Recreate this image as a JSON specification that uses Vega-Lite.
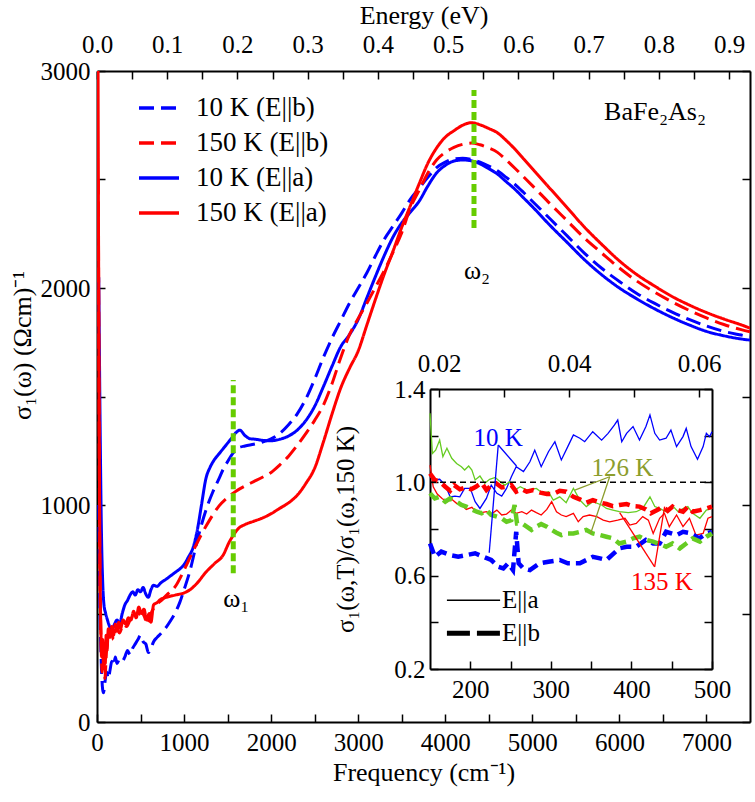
{
"$schema": "https://vega.github.io/schema/vega-lite/v6.json",
"width": 653, "height": 651,
"autosize": {"type": "none"},
"padding": {"left": 97, "top": 71, "right": 5, "bottom": 80},
"background": "white",
"config": {
 "view": {"stroke": null},
 "axis": {"grid": false, "domainColor": "#000", "domainWidth": 2, "tickColor": "#000", "tickWidth": 1.5, "tickSize": -8,
  "labelFont": "Liberation Serif", "labelFontSize": 25, "labelColor": "#000", "labelFlush": false, "labelOverlap": false,
  "titleFont": "Liberation Serif", "titleFontSize": 26, "titleFontWeight": "normal", "titleColor": "#000"},
 "legend": {"labelFont": "Liberation Serif"},
 "text": {"font": "Liberation Serif"}
},
"datasets": {
 "main": [
  {"f":20,"s":2050,"series":"10 K (E||a)"},{"f":35,"s":1400,"series":"10 K (E||a)"},{"f":50,"s":900,"series":"10 K (E||a)"},{"f":65,"s":650,"series":"10 K (E||a)"},{"f":80,"s":540,"series":"10 K (E||a)"},{"f":100,"s":500,"series":"10 K (E||a)"},{"f":120,"s":470,"series":"10 K (E||a)"},{"f":145,"s":440,"series":"10 K (E||a)"},{"f":170,"s":425,"series":"10 K (E||a)"},{"f":200,"s":450,"series":"10 K (E||a)"},{"f":230,"s":470,"series":"10 K (E||a)"},{"f":260,"s":455,"series":"10 K (E||a)"},{"f":290,"s":500,"series":"10 K (E||a)"},{"f":320,"s":540,"series":"10 K (E||a)"},{"f":350,"s":560,"series":"10 K (E||a)"},{"f":380,"s":585,"series":"10 K (E||a)"},{"f":410,"s":600,"series":"10 K (E||a)"},{"f":440,"s":585,"series":"10 K (E||a)"},{"f":470,"s":610,"series":"10 K (E||a)"},{"f":500,"s":600,"series":"10 K (E||a)"},{"f":530,"s":620,"series":"10 K (E||a)"},{"f":560,"s":590,"series":"10 K (E||a)"},{"f":590,"s":575,"series":"10 K (E||a)"},{"f":620,"s":610,"series":"10 K (E||a)"},{"f":650,"s":630,"series":"10 K (E||a)"},{"f":690,"s":625,"series":"10 K (E||a)"},{"f":730,"s":640,"series":"10 K (E||a)"},{"f":800,"s":660,"series":"10 K (E||a)"},{"f":850,"s":675,"series":"10 K (E||a)"},{"f":900,"s":690,"series":"10 K (E||a)"},{"f":950,"s":705,"series":"10 K (E||a)"},{"f":1000,"s":725,"series":"10 K (E||a)"},{"f":1050,"s":760,"series":"10 K (E||a)"},{"f":1100,"s":800,"series":"10 K (E||a)"},{"f":1150,"s":880,"series":"10 K (E||a)"},{"f":1200,"s":1000,"series":"10 K (E||a)"},{"f":1250,"s":1120,"series":"10 K (E||a)"},{"f":1300,"s":1175,"series":"10 K (E||a)"},{"f":1350,"s":1210,"series":"10 K (E||a)"},{"f":1400,"s":1235,"series":"10 K (E||a)"},{"f":1450,"s":1260,"series":"10 K (E||a)"},{"f":1500,"s":1285,"series":"10 K (E||a)"},{"f":1550,"s":1310,"series":"10 K (E||a)"},{"f":1600,"s":1335,"series":"10 K (E||a)"},{"f":1640,"s":1345,"series":"10 K (E||a)"},{"f":1700,"s":1320,"series":"10 K (E||a)"},{"f":1760,"s":1305,"series":"10 K (E||a)"},{"f":1820,"s":1303,"series":"10 K (E||a)"},{"f":1900,"s":1298,"series":"10 K (E||a)"},{"f":2000,"s":1296,"series":"10 K (E||a)"},{"f":2100,"s":1303,"series":"10 K (E||a)"},{"f":2200,"s":1318,"series":"10 K (E||a)"},{"f":2300,"s":1345,"series":"10 K (E||a)"},{"f":2400,"s":1390,"series":"10 K (E||a)"},{"f":2500,"s":1455,"series":"10 K (E||a)"},{"f":2600,"s":1545,"series":"10 K (E||a)"},{"f":2700,"s":1640,"series":"10 K (E||a)"},{"f":2800,"s":1730,"series":"10 K (E||a)"},{"f":2900,"s":1785,"series":"10 K (E||a)"},{"f":3000,"s":1855,"series":"10 K (E||a)"},{"f":3100,"s":1955,"series":"10 K (E||a)"},{"f":3200,"s":2055,"series":"10 K (E||a)"},{"f":3300,"s":2150,"series":"10 K (E||a)"},{"f":3400,"s":2235,"series":"10 K (E||a)"},{"f":3500,"s":2300,"series":"10 K (E||a)"},{"f":3600,"s":2350,"series":"10 K (E||a)"},{"f":3700,"s":2400,"series":"10 K (E||a)"},{"f":3800,"s":2470,"series":"10 K (E||a)"},{"f":3900,"s":2530,"series":"10 K (E||a)"},{"f":4000,"s":2565,"series":"10 K (E||a)"},{"f":4100,"s":2585,"series":"10 K (E||a)"},{"f":4200,"s":2590,"series":"10 K (E||a)"},{"f":4300,"s":2586,"series":"10 K (E||a)"},{"f":4400,"s":2572,"series":"10 K (E||a)"},{"f":4500,"s":2550,"series":"10 K (E||a)"},{"f":4600,"s":2525,"series":"10 K (E||a)"},{"f":4700,"s":2490,"series":"10 K (E||a)"},{"f":4800,"s":2455,"series":"10 K (E||a)"},{"f":4900,"s":2415,"series":"10 K (E||a)"},{"f":5000,"s":2375,"series":"10 K (E||a)"},{"f":5200,"s":2290,"series":"10 K (E||a)"},{"f":5400,"s":2210,"series":"10 K (E||a)"},{"f":5600,"s":2130,"series":"10 K (E||a)"},{"f":5800,"s":2060,"series":"10 K (E||a)"},{"f":6000,"s":2000,"series":"10 K (E||a)"},{"f":6200,"s":1950,"series":"10 K (E||a)"},{"f":6400,"s":1905,"series":"10 K (E||a)"},{"f":6600,"s":1865,"series":"10 K (E||a)"},{"f":6800,"s":1830,"series":"10 K (E||a)"},{"f":7000,"s":1800,"series":"10 K (E||a)"},{"f":7200,"s":1780,"series":"10 K (E||a)"},{"f":7400,"s":1765,"series":"10 K (E||a)"},{"f":7500,"s":1760,"series":"10 K (E||a)"},
  {"f":20,"s":1000,"series":"10 K (E||b)"},{"f":35,"s":500,"series":"10 K (E||b)"},{"f":50,"s":260,"series":"10 K (E||b)"},{"f":65,"s":150,"series":"10 K (E||b)"},{"f":75,"s":135,"series":"10 K (E||b)"},{"f":90,"s":180,"series":"10 K (E||b)"},{"f":110,"s":230,"series":"10 K (E||b)"},{"f":130,"s":200,"series":"10 K (E||b)"},{"f":150,"s":240,"series":"10 K (E||b)"},{"f":170,"s":280,"series":"10 K (E||b)"},{"f":190,"s":260,"series":"10 K (E||b)"},{"f":210,"s":300,"series":"10 K (E||b)"},{"f":230,"s":270,"series":"10 K (E||b)"},{"f":260,"s":290,"series":"10 K (E||b)"},{"f":290,"s":280,"series":"10 K (E||b)"},{"f":320,"s":300,"series":"10 K (E||b)"},{"f":350,"s":330,"series":"10 K (E||b)"},{"f":380,"s":310,"series":"10 K (E||b)"},{"f":410,"s":340,"series":"10 K (E||b)"},{"f":440,"s":360,"series":"10 K (E||b)"},{"f":470,"s":380,"series":"10 K (E||b)"},{"f":500,"s":400,"series":"10 K (E||b)"},{"f":530,"s":370,"series":"10 K (E||b)"},{"f":560,"s":360,"series":"10 K (E||b)"},{"f":590,"s":320,"series":"10 K (E||b)"},{"f":620,"s":340,"series":"10 K (E||b)"},{"f":650,"s":370,"series":"10 K (E||b)"},{"f":690,"s":390,"series":"10 K (E||b)"},{"f":740,"s":410,"series":"10 K (E||b)"},{"f":800,"s":440,"series":"10 K (E||b)"},{"f":850,"s":470,"series":"10 K (E||b)"},{"f":900,"s":505,"series":"10 K (E||b)"},{"f":950,"s":550,"series":"10 K (E||b)"},{"f":1000,"s":610,"series":"10 K (E||b)"},{"f":1070,"s":700,"series":"10 K (E||b)"},{"f":1130,"s":800,"series":"10 K (E||b)"},{"f":1180,"s":880,"series":"10 K (E||b)"},{"f":1250,"s":975,"series":"10 K (E||b)"},{"f":1330,"s":1060,"series":"10 K (E||b)"},{"f":1400,"s":1120,"series":"10 K (E||b)"},{"f":1450,"s":1165,"series":"10 K (E||b)"},{"f":1500,"s":1200,"series":"10 K (E||b)"},{"f":1560,"s":1238,"series":"10 K (E||b)"},{"f":1620,"s":1262,"series":"10 K (E||b)"},{"f":1700,"s":1272,"series":"10 K (E||b)"},{"f":1800,"s":1280,"series":"10 K (E||b)"},{"f":1900,"s":1290,"series":"10 K (E||b)"},{"f":2000,"s":1305,"series":"10 K (E||b)"},{"f":2100,"s":1330,"series":"10 K (E||b)"},{"f":2200,"s":1370,"series":"10 K (E||b)"},{"f":2300,"s":1420,"series":"10 K (E||b)"},{"f":2400,"s":1490,"series":"10 K (E||b)"},{"f":2500,"s":1580,"series":"10 K (E||b)"},{"f":2600,"s":1680,"series":"10 K (E||b)"},{"f":2700,"s":1770,"series":"10 K (E||b)"},{"f":2800,"s":1850,"series":"10 K (E||b)"},{"f":2900,"s":1930,"series":"10 K (E||b)"},{"f":3000,"s":2000,"series":"10 K (E||b)"},{"f":3100,"s":2070,"series":"10 K (E||b)"},{"f":3200,"s":2150,"series":"10 K (E||b)"},{"f":3300,"s":2225,"series":"10 K (E||b)"},{"f":3400,"s":2285,"series":"10 K (E||b)"},{"f":3500,"s":2345,"series":"10 K (E||b)"},{"f":3600,"s":2410,"series":"10 K (E||b)"},{"f":3700,"s":2460,"series":"10 K (E||b)"},{"f":3800,"s":2510,"series":"10 K (E||b)"},{"f":3900,"s":2555,"series":"10 K (E||b)"},{"f":4000,"s":2580,"series":"10 K (E||b)"},{"f":4100,"s":2595,"series":"10 K (E||b)"},{"f":4200,"s":2598,"series":"10 K (E||b)"},{"f":4300,"s":2592,"series":"10 K (E||b)"},{"f":4400,"s":2580,"series":"10 K (E||b)"},{"f":4500,"s":2562,"series":"10 K (E||b)"},{"f":4600,"s":2540,"series":"10 K (E||b)"},{"f":4700,"s":2510,"series":"10 K (E||b)"},{"f":4800,"s":2478,"series":"10 K (E||b)"},{"f":4900,"s":2440,"series":"10 K (E||b)"},{"f":5000,"s":2400,"series":"10 K (E||b)"},{"f":5200,"s":2320,"series":"10 K (E||b)"},{"f":5400,"s":2240,"series":"10 K (E||b)"},{"f":5600,"s":2160,"series":"10 K (E||b)"},{"f":5800,"s":2090,"series":"10 K (E||b)"},{"f":6000,"s":2030,"series":"10 K (E||b)"},{"f":6200,"s":1975,"series":"10 K (E||b)"},{"f":6400,"s":1930,"series":"10 K (E||b)"},{"f":6600,"s":1890,"series":"10 K (E||b)"},{"f":6800,"s":1855,"series":"10 K (E||b)"},{"f":7000,"s":1825,"series":"10 K (E||b)"},{"f":7200,"s":1800,"series":"10 K (E||b)"},{"f":7400,"s":1783,"series":"10 K (E||b)"},{"f":7500,"s":1775,"series":"10 K (E||b)"},
  {"f":15,"s":2500,"series":"150 K (E||b)"},{"f":30,"s":900,"series":"150 K (E||b)"},{"f":45,"s":400,"series":"150 K (E||b)"},{"f":60,"s":230,"series":"150 K (E||b)"},{"f":75,"s":300,"series":"150 K (E||b)"},{"f":90,"s":200,"series":"150 K (E||b)"},{"f":110,"s":330,"series":"150 K (E||b)"},{"f":130,"s":380,"series":"150 K (E||b)"},{"f":160,"s":420,"series":"150 K (E||b)"},{"f":190,"s":380,"series":"150 K (E||b)"},{"f":220,"s":430,"series":"150 K (E||b)"},{"f":260,"s":410,"series":"150 K (E||b)"},{"f":300,"s":450,"series":"150 K (E||b)"},{"f":340,"s":440,"series":"150 K (E||b)"},{"f":380,"s":470,"series":"150 K (E||b)"},{"f":420,"s":490,"series":"150 K (E||b)"},{"f":460,"s":480,"series":"150 K (E||b)"},{"f":500,"s":510,"series":"150 K (E||b)"},{"f":540,"s":490,"series":"150 K (E||b)"},{"f":580,"s":450,"series":"150 K (E||b)"},{"f":620,"s":500,"series":"150 K (E||b)"},{"f":680,"s":540,"series":"150 K (E||b)"},{"f":740,"s":560,"series":"150 K (E||b)"},{"f":800,"s":585,"series":"150 K (E||b)"},{"f":900,"s":625,"series":"150 K (E||b)"},{"f":1000,"s":700,"series":"150 K (E||b)"},{"f":1100,"s":785,"series":"150 K (E||b)"},{"f":1200,"s":865,"series":"150 K (E||b)"},{"f":1300,"s":935,"series":"150 K (E||b)"},{"f":1400,"s":995,"series":"150 K (E||b)"},{"f":1500,"s":1035,"series":"150 K (E||b)"},{"f":1600,"s":1065,"series":"150 K (E||b)"},{"f":1700,"s":1088,"series":"150 K (E||b)"},{"f":1800,"s":1108,"series":"150 K (E||b)"},{"f":1900,"s":1128,"series":"150 K (E||b)"},{"f":2000,"s":1150,"series":"150 K (E||b)"},{"f":2100,"s":1185,"series":"150 K (E||b)"},{"f":2200,"s":1225,"series":"150 K (E||b)"},{"f":2300,"s":1275,"series":"150 K (E||b)"},{"f":2400,"s":1330,"series":"150 K (E||b)"},{"f":2500,"s":1390,"series":"150 K (E||b)"},{"f":2600,"s":1460,"series":"150 K (E||b)"},{"f":2700,"s":1560,"series":"150 K (E||b)"},{"f":2800,"s":1680,"series":"150 K (E||b)"},{"f":2900,"s":1785,"series":"150 K (E||b)"},{"f":3000,"s":1860,"series":"150 K (E||b)"},{"f":3100,"s":1930,"series":"150 K (E||b)"},{"f":3200,"s":2005,"series":"150 K (E||b)"},{"f":3300,"s":2080,"series":"150 K (E||b)"},{"f":3400,"s":2165,"series":"150 K (E||b)"},{"f":3500,"s":2255,"series":"150 K (E||b)"},{"f":3600,"s":2370,"series":"150 K (E||b)"},{"f":3700,"s":2450,"series":"150 K (E||b)"},{"f":3800,"s":2530,"series":"150 K (E||b)"},{"f":3900,"s":2590,"series":"150 K (E||b)"},{"f":4000,"s":2625,"series":"150 K (E||b)"},{"f":4100,"s":2648,"series":"150 K (E||b)"},{"f":4200,"s":2662,"series":"150 K (E||b)"},{"f":4300,"s":2668,"series":"150 K (E||b)"},{"f":4400,"s":2660,"series":"150 K (E||b)"},{"f":4500,"s":2645,"series":"150 K (E||b)"},{"f":4600,"s":2625,"series":"150 K (E||b)"},{"f":4700,"s":2590,"series":"150 K (E||b)"},{"f":4800,"s":2552,"series":"150 K (E||b)"},{"f":4900,"s":2512,"series":"150 K (E||b)"},{"f":5000,"s":2472,"series":"150 K (E||b)"},{"f":5200,"s":2390,"series":"150 K (E||b)"},{"f":5400,"s":2310,"series":"150 K (E||b)"},{"f":5600,"s":2230,"series":"150 K (E||b)"},{"f":5800,"s":2160,"series":"150 K (E||b)"},{"f":6000,"s":2092,"series":"150 K (E||b)"},{"f":6200,"s":2032,"series":"150 K (E||b)"},{"f":6400,"s":1982,"series":"150 K (E||b)"},{"f":6600,"s":1937,"series":"150 K (E||b)"},{"f":6800,"s":1897,"series":"150 K (E||b)"},{"f":7000,"s":1862,"series":"150 K (E||b)"},{"f":7200,"s":1832,"series":"150 K (E||b)"},{"f":7400,"s":1808,"series":"150 K (E||b)"},{"f":7500,"s":1798,"series":"150 K (E||b)"},
  {"f":12,"s":3000,"series":"150 K (E||a)"},{"f":25,"s":1400,"series":"150 K (E||a)"},{"f":35,"s":700,"series":"150 K (E||a)"},{"f":45,"s":420,"series":"150 K (E||a)"},{"f":55,"s":300,"series":"150 K (E||a)"},{"f":65,"s":380,"series":"150 K (E||a)"},{"f":75,"s":250,"series":"150 K (E||a)"},{"f":85,"s":340,"series":"150 K (E||a)"},{"f":95,"s":270,"series":"150 K (E||a)"},{"f":105,"s":400,"series":"150 K (E||a)"},{"f":115,"s":330,"series":"150 K (E||a)"},{"f":130,"s":430,"series":"150 K (E||a)"},{"f":150,"s":390,"series":"150 K (E||a)"},{"f":170,"s":440,"series":"150 K (E||a)"},{"f":190,"s":400,"series":"150 K (E||a)"},{"f":210,"s":450,"series":"150 K (E||a)"},{"f":230,"s":420,"series":"150 K (E||a)"},{"f":250,"s":460,"series":"150 K (E||a)"},{"f":270,"s":430,"series":"150 K (E||a)"},{"f":300,"s":470,"series":"150 K (E||a)"},{"f":330,"s":450,"series":"150 K (E||a)"},{"f":360,"s":480,"series":"150 K (E||a)"},{"f":390,"s":470,"series":"150 K (E||a)"},{"f":420,"s":510,"series":"150 K (E||a)"},{"f":450,"s":480,"series":"150 K (E||a)"},{"f":480,"s":530,"series":"150 K (E||a)"},{"f":510,"s":500,"series":"150 K (E||a)"},{"f":540,"s":520,"series":"150 K (E||a)"},{"f":570,"s":470,"series":"150 K (E||a)"},{"f":600,"s":500,"series":"150 K (E||a)"},{"f":620,"s":460,"series":"150 K (E||a)"},{"f":650,"s":540,"series":"150 K (E||a)"},{"f":690,"s":550,"series":"150 K (E||a)"},{"f":730,"s":565,"series":"150 K (E||a)"},{"f":800,"s":575,"series":"150 K (E||a)"},{"f":900,"s":585,"series":"150 K (E||a)"},{"f":1000,"s":595,"series":"150 K (E||a)"},{"f":1070,"s":610,"series":"150 K (E||a)"},{"f":1150,"s":640,"series":"150 K (E||a)"},{"f":1250,"s":690,"series":"150 K (E||a)"},{"f":1350,"s":730,"series":"150 K (E||a)"},{"f":1450,"s":770,"series":"150 K (E||a)"},{"f":1520,"s":830,"series":"150 K (E||a)"},{"f":1565,"s":860,"series":"150 K (E||a)"},{"f":1620,"s":890,"series":"150 K (E||a)"},{"f":1700,"s":910,"series":"150 K (E||a)"},{"f":1800,"s":925,"series":"150 K (E||a)"},{"f":1900,"s":940,"series":"150 K (E||a)"},{"f":2000,"s":960,"series":"150 K (E||a)"},{"f":2100,"s":985,"series":"150 K (E||a)"},{"f":2200,"s":1010,"series":"150 K (E||a)"},{"f":2300,"s":1045,"series":"150 K (E||a)"},{"f":2400,"s":1100,"series":"150 K (E||a)"},{"f":2500,"s":1170,"series":"150 K (E||a)"},{"f":2600,"s":1290,"series":"150 K (E||a)"},{"f":2700,"s":1420,"series":"150 K (E||a)"},{"f":2800,"s":1540,"series":"150 K (E||a)"},{"f":2900,"s":1630,"series":"150 K (E||a)"},{"f":3000,"s":1710,"series":"150 K (E||a)"},{"f":3100,"s":1830,"series":"150 K (E||a)"},{"f":3200,"s":1950,"series":"150 K (E||a)"},{"f":3300,"s":2065,"series":"150 K (E||a)"},{"f":3400,"s":2170,"series":"150 K (E||a)"},{"f":3500,"s":2280,"series":"150 K (E||a)"},{"f":3600,"s":2380,"series":"150 K (E||a)"},{"f":3700,"s":2480,"series":"150 K (E||a)"},{"f":3800,"s":2575,"series":"150 K (E||a)"},{"f":3900,"s":2645,"series":"150 K (E||a)"},{"f":4000,"s":2695,"series":"150 K (E||a)"},{"f":4100,"s":2725,"series":"150 K (E||a)"},{"f":4200,"s":2750,"series":"150 K (E||a)"},{"f":4300,"s":2762,"series":"150 K (E||a)"},{"f":4400,"s":2752,"series":"150 K (E||a)"},{"f":4500,"s":2735,"series":"150 K (E||a)"},{"f":4600,"s":2715,"series":"150 K (E||a)"},{"f":4700,"s":2680,"series":"150 K (E||a)"},{"f":4800,"s":2640,"series":"150 K (E||a)"},{"f":4900,"s":2595,"series":"150 K (E||a)"},{"f":5000,"s":2550,"series":"150 K (E||a)"},{"f":5200,"s":2460,"series":"150 K (E||a)"},{"f":5400,"s":2370,"series":"150 K (E||a)"},{"f":5600,"s":2280,"series":"150 K (E||a)"},{"f":5800,"s":2200,"series":"150 K (E||a)"},{"f":6000,"s":2125,"series":"150 K (E||a)"},{"f":6200,"s":2062,"series":"150 K (E||a)"},{"f":6400,"s":2010,"series":"150 K (E||a)"},{"f":6600,"s":1962,"series":"150 K (E||a)"},{"f":6800,"s":1922,"series":"150 K (E||a)"},{"f":7000,"s":1887,"series":"150 K (E||a)"},{"f":7200,"s":1857,"series":"150 K (E||a)"},{"f":7400,"s":1830,"series":"150 K (E||a)"},{"f":7500,"s":1815,"series":"150 K (E||a)"}
 ],
 "markers": [{"f":1565,"s":686,"s2":1576},{"f":4330,"s":2276,"s2":2912}],
 "mainlabels": [{"f":1600,"s":565,"label":"ω₁"},{"f":4365,"s":2080,"label":"ω₂"},{"f":6409,"s":2811,"label":"BaFe₂As₂"}],
 "inset": [
  {"x":150,"r":1.024,"T":"10 K","pol":"a"},{"x":156,"r":1.010,"T":"10 K","pol":"a"},{"x":162,"r":1.013,"T":"10 K","pol":"a"},{"x":169,"r":0.988,"T":"10 K","pol":"a"},{"x":175,"r":0.938,"T":"10 K","pol":"a"},{"x":181,"r":0.941,"T":"10 K","pol":"a"},{"x":187,"r":0.938,"T":"10 K","pol":"a"},{"x":193,"r":0.974,"T":"10 K","pol":"a"},{"x":200,"r":0.974,"T":"10 K","pol":"a"},{"x":206,"r":0.917,"T":"10 K","pol":"a"},{"x":212,"r":0.888,"T":"10 K","pol":"a"},{"x":220,"r":0.931,"T":"10 K","pol":"a"},{"x":226,"r":0.988,"T":"10 K","pol":"a"},{"x":233,"r":0.953,"T":"10 K","pol":"a"},{"x":239,"r":0.941,"T":"10 K","pol":"a"},{"x":245,"r":0.974,"T":"10 K","pol":"a"},{"x":251,"r":1.024,"T":"10 K","pol":"a"},{"x":257,"r":1.067,"T":"10 K","pol":"a"},{"x":266,"r":1.046,"T":"10 K","pol":"a"},{"x":274,"r":1.088,"T":"10 K","pol":"a"},{"x":280,"r":1.138,"T":"10 K","pol":"a"},{"x":288,"r":1.067,"T":"10 K","pol":"a"},{"x":297,"r":1.131,"T":"10 K","pol":"a"},{"x":305,"r":1.174,"T":"10 K","pol":"a"},{"x":313,"r":1.096,"T":"10 K","pol":"a"},{"x":321,"r":1.153,"T":"10 K","pol":"a"},{"x":328,"r":1.203,"T":"10 K","pol":"a"},{"x":336,"r":1.189,"T":"10 K","pol":"a"},{"x":342,"r":1.174,"T":"10 K","pol":"a"},{"x":352,"r":1.217,"T":"10 K","pol":"a"},{"x":363,"r":1.181,"T":"10 K","pol":"a"},{"x":371,"r":1.210,"T":"10 K","pol":"a"},{"x":379,"r":1.246,"T":"10 K","pol":"a"},{"x":383,"r":1.267,"T":"10 K","pol":"a"},{"x":388,"r":1.174,"T":"10 K","pol":"a"},{"x":394,"r":1.210,"T":"10 K","pol":"a"},{"x":402,"r":1.239,"T":"10 K","pol":"a"},{"x":410,"r":1.181,"T":"10 K","pol":"a"},{"x":418,"r":1.239,"T":"10 K","pol":"a"},{"x":423,"r":1.289,"T":"10 K","pol":"a"},{"x":429,"r":1.210,"T":"10 K","pol":"a"},{"x":435,"r":1.181,"T":"10 K","pol":"a"},{"x":443,"r":1.189,"T":"10 K","pol":"a"},{"x":449,"r":1.224,"T":"10 K","pol":"a"},{"x":456,"r":1.153,"T":"10 K","pol":"a"},{"x":464,"r":1.196,"T":"10 K","pol":"a"},{"x":468,"r":1.231,"T":"10 K","pol":"a"},{"x":474,"r":1.153,"T":"10 K","pol":"a"},{"x":482,"r":1.099,"T":"10 K","pol":"a"},{"x":489,"r":1.153,"T":"10 K","pol":"a"},{"x":493,"r":1.210,"T":"10 K","pol":"a"},{"x":497,"r":1.196,"T":"10 K","pol":"a"},{"x":500,"r":1.217,"T":"10 K","pol":"a"},
  {"x":150,"r":0.738,"T":"10 K","pol":"b"},{"x":156,"r":0.681,"T":"10 K","pol":"b"},{"x":164,"r":0.703,"T":"10 K","pol":"b"},{"x":175,"r":0.688,"T":"10 K","pol":"b"},{"x":185,"r":0.681,"T":"10 K","pol":"b"},{"x":195,"r":0.688,"T":"10 K","pol":"b"},{"x":206,"r":0.696,"T":"10 K","pol":"b"},{"x":216,"r":0.681,"T":"10 K","pol":"b"},{"x":226,"r":0.667,"T":"10 K","pol":"b"},{"x":235,"r":0.638,"T":"10 K","pol":"b"},{"x":241,"r":0.631,"T":"10 K","pol":"b"},{"x":247,"r":0.653,"T":"10 K","pol":"b"},{"x":253,"r":0.624,"T":"10 K","pol":"b"},{"x":257,"r":0.788,"T":"10 K","pol":"b"},{"x":260,"r":0.653,"T":"10 K","pol":"b"},{"x":266,"r":0.631,"T":"10 K","pol":"b"},{"x":274,"r":0.624,"T":"10 K","pol":"b"},{"x":286,"r":0.653,"T":"10 K","pol":"b"},{"x":297,"r":0.660,"T":"10 K","pol":"b"},{"x":311,"r":0.667,"T":"10 K","pol":"b"},{"x":321,"r":0.653,"T":"10 K","pol":"b"},{"x":336,"r":0.653,"T":"10 K","pol":"b"},{"x":352,"r":0.681,"T":"10 K","pol":"b"},{"x":361,"r":0.674,"T":"10 K","pol":"b"},{"x":369,"r":0.667,"T":"10 K","pol":"b"},{"x":385,"r":0.717,"T":"10 K","pol":"b"},{"x":394,"r":0.724,"T":"10 K","pol":"b"},{"x":406,"r":0.724,"T":"10 K","pol":"b"},{"x":418,"r":0.753,"T":"10 K","pol":"b"},{"x":427,"r":0.738,"T":"10 K","pol":"b"},{"x":435,"r":0.738,"T":"10 K","pol":"b"},{"x":443,"r":0.788,"T":"10 K","pol":"b"},{"x":456,"r":0.774,"T":"10 K","pol":"b"},{"x":464,"r":0.788,"T":"10 K","pol":"b"},{"x":474,"r":0.781,"T":"10 K","pol":"b"},{"x":484,"r":0.760,"T":"10 K","pol":"b"},{"x":493,"r":0.781,"T":"10 K","pol":"b"},{"x":500,"r":0.788,"T":"10 K","pol":"b"},
  {"x":150,"r":1.296,"T":"126 K","pol":"a"},{"x":153,"r":1.124,"T":"126 K","pol":"a"},{"x":157,"r":1.138,"T":"126 K","pol":"a"},{"x":162,"r":1.181,"T":"126 K","pol":"a"},{"x":166,"r":1.110,"T":"126 K","pol":"a"},{"x":171,"r":1.146,"T":"126 K","pol":"a"},{"x":177,"r":1.103,"T":"126 K","pol":"a"},{"x":183,"r":1.081,"T":"126 K","pol":"a"},{"x":189,"r":1.067,"T":"126 K","pol":"a"},{"x":193,"r":1.053,"T":"126 K","pol":"a"},{"x":198,"r":1.070,"T":"126 K","pol":"a"},{"x":202,"r":1.053,"T":"126 K","pol":"a"},{"x":206,"r":1.010,"T":"126 K","pol":"a"},{"x":212,"r":1.027,"T":"126 K","pol":"a"},{"x":218,"r":0.996,"T":"126 K","pol":"a"},{"x":224,"r":1.013,"T":"126 K","pol":"a"},{"x":231,"r":1.021,"T":"126 K","pol":"a"},{"x":237,"r":1.003,"T":"126 K","pol":"a"},{"x":243,"r":0.988,"T":"126 K","pol":"a"},{"x":249,"r":1.003,"T":"126 K","pol":"a"},{"x":255,"r":0.967,"T":"126 K","pol":"a"},{"x":262,"r":0.981,"T":"126 K","pol":"a"},{"x":270,"r":0.967,"T":"126 K","pol":"a"},{"x":276,"r":0.970,"T":"126 K","pol":"a"},{"x":282,"r":0.974,"T":"126 K","pol":"a"},{"x":290,"r":0.953,"T":"126 K","pol":"a"},{"x":297,"r":0.960,"T":"126 K","pol":"a"},{"x":303,"r":0.924,"T":"126 K","pol":"a"},{"x":311,"r":0.938,"T":"126 K","pol":"a"},{"x":319,"r":0.913,"T":"126 K","pol":"a"},{"x":328,"r":0.974,"T":"126 K","pol":"a"},{"x":336,"r":0.924,"T":"126 K","pol":"a"},{"x":344,"r":0.896,"T":"126 K","pol":"a"},{"x":352,"r":0.917,"T":"126 K","pol":"a"},{"x":363,"r":0.903,"T":"126 K","pol":"a"},{"x":369,"r":0.888,"T":"126 K","pol":"a"},{"x":377,"r":0.881,"T":"126 K","pol":"a"},{"x":385,"r":0.874,"T":"126 K","pol":"a"},{"x":396,"r":0.870,"T":"126 K","pol":"a"},{"x":406,"r":0.874,"T":"126 K","pol":"a"},{"x":414,"r":0.888,"T":"126 K","pol":"a"},{"x":423,"r":0.938,"T":"126 K","pol":"a"},{"x":429,"r":0.896,"T":"126 K","pol":"a"},{"x":435,"r":0.888,"T":"126 K","pol":"a"},{"x":443,"r":0.874,"T":"126 K","pol":"a"},{"x":452,"r":0.896,"T":"126 K","pol":"a"},{"x":458,"r":0.874,"T":"126 K","pol":"a"},{"x":464,"r":0.888,"T":"126 K","pol":"a"},{"x":470,"r":0.896,"T":"126 K","pol":"a"},{"x":476,"r":0.867,"T":"126 K","pol":"a"},{"x":485,"r":0.846,"T":"126 K","pol":"a"},{"x":493,"r":0.881,"T":"126 K","pol":"a"},{"x":500,"r":0.888,"T":"126 K","pol":"a"},
  {"x":150,"r":0.953,"T":"126 K","pol":"b"},{"x":156,"r":0.931,"T":"126 K","pol":"b"},{"x":162,"r":0.938,"T":"126 K","pol":"b"},{"x":169,"r":0.917,"T":"126 K","pol":"b"},{"x":175,"r":0.931,"T":"126 K","pol":"b"},{"x":183,"r":0.917,"T":"126 K","pol":"b"},{"x":189,"r":0.903,"T":"126 K","pol":"b"},{"x":195,"r":0.896,"T":"126 K","pol":"b"},{"x":202,"r":0.884,"T":"126 K","pol":"b"},{"x":208,"r":0.874,"T":"126 K","pol":"b"},{"x":214,"r":0.867,"T":"126 K","pol":"b"},{"x":220,"r":0.881,"T":"126 K","pol":"b"},{"x":226,"r":0.860,"T":"126 K","pol":"b"},{"x":233,"r":0.853,"T":"126 K","pol":"b"},{"x":239,"r":0.846,"T":"126 K","pol":"b"},{"x":245,"r":0.831,"T":"126 K","pol":"b"},{"x":251,"r":0.838,"T":"126 K","pol":"b"},{"x":255,"r":0.903,"T":"126 K","pol":"b"},{"x":258,"r":0.824,"T":"126 K","pol":"b"},{"x":264,"r":0.824,"T":"126 K","pol":"b"},{"x":270,"r":0.810,"T":"126 K","pol":"b"},{"x":276,"r":0.796,"T":"126 K","pol":"b"},{"x":282,"r":0.810,"T":"126 K","pol":"b"},{"x":288,"r":0.821,"T":"126 K","pol":"b"},{"x":295,"r":0.810,"T":"126 K","pol":"b"},{"x":301,"r":0.796,"T":"126 K","pol":"b"},{"x":307,"r":0.784,"T":"126 K","pol":"b"},{"x":313,"r":0.774,"T":"126 K","pol":"b"},{"x":319,"r":0.781,"T":"126 K","pol":"b"},{"x":328,"r":0.781,"T":"126 K","pol":"b"},{"x":336,"r":0.788,"T":"126 K","pol":"b"},{"x":344,"r":0.796,"T":"126 K","pol":"b"},{"x":352,"r":0.781,"T":"126 K","pol":"b"},{"x":361,"r":0.774,"T":"126 K","pol":"b"},{"x":369,"r":0.767,"T":"126 K","pol":"b"},{"x":377,"r":0.760,"T":"126 K","pol":"b"},{"x":385,"r":0.738,"T":"126 K","pol":"b"},{"x":394,"r":0.746,"T":"126 K","pol":"b"},{"x":402,"r":0.760,"T":"126 K","pol":"b"},{"x":410,"r":0.767,"T":"126 K","pol":"b"},{"x":418,"r":0.753,"T":"126 K","pol":"b"},{"x":427,"r":0.746,"T":"126 K","pol":"b"},{"x":435,"r":0.736,"T":"126 K","pol":"b"},{"x":443,"r":0.724,"T":"126 K","pol":"b"},{"x":451,"r":0.738,"T":"126 K","pol":"b"},{"x":460,"r":0.717,"T":"126 K","pol":"b"},{"x":468,"r":0.738,"T":"126 K","pol":"b"},{"x":476,"r":0.760,"T":"126 K","pol":"b"},{"x":485,"r":0.746,"T":"126 K","pol":"b"},{"x":493,"r":0.767,"T":"126 K","pol":"b"},{"x":500,"r":0.781,"T":"126 K","pol":"b"},
  {"x":150,"r":1.074,"T":"135 K","pol":"a"},{"x":154,"r":0.981,"T":"135 K","pol":"a"},{"x":159,"r":0.950,"T":"135 K","pol":"a"},{"x":165,"r":0.931,"T":"135 K","pol":"a"},{"x":171,"r":0.917,"T":"135 K","pol":"a"},{"x":177,"r":0.927,"T":"135 K","pol":"a"},{"x":183,"r":0.910,"T":"135 K","pol":"a"},{"x":189,"r":0.903,"T":"135 K","pol":"a"},{"x":195,"r":0.884,"T":"135 K","pol":"a"},{"x":202,"r":0.893,"T":"135 K","pol":"a"},{"x":208,"r":0.870,"T":"135 K","pol":"a"},{"x":214,"r":0.870,"T":"135 K","pol":"a"},{"x":220,"r":0.874,"T":"135 K","pol":"a"},{"x":226,"r":0.864,"T":"135 K","pol":"a"},{"x":233,"r":0.881,"T":"135 K","pol":"a"},{"x":239,"r":0.860,"T":"135 K","pol":"a"},{"x":245,"r":0.864,"T":"135 K","pol":"a"},{"x":251,"r":0.881,"T":"135 K","pol":"a"},{"x":257,"r":0.867,"T":"135 K","pol":"a"},{"x":264,"r":0.874,"T":"135 K","pol":"a"},{"x":270,"r":0.864,"T":"135 K","pol":"a"},{"x":276,"r":0.881,"T":"135 K","pol":"a"},{"x":282,"r":0.870,"T":"135 K","pol":"a"},{"x":288,"r":0.860,"T":"135 K","pol":"a"},{"x":295,"r":0.884,"T":"135 K","pol":"a"},{"x":301,"r":0.917,"T":"135 K","pol":"a"},{"x":307,"r":0.874,"T":"135 K","pol":"a"},{"x":313,"r":0.860,"T":"135 K","pol":"a"},{"x":319,"r":0.853,"T":"135 K","pol":"a"},{"x":328,"r":0.867,"T":"135 K","pol":"a"},{"x":334,"r":0.831,"T":"135 K","pol":"a"},{"x":340,"r":0.853,"T":"135 K","pol":"a"},{"x":348,"r":0.860,"T":"135 K","pol":"a"},{"x":357,"r":0.853,"T":"135 K","pol":"a"},{"x":365,"r":0.838,"T":"135 K","pol":"a"},{"x":373,"r":0.831,"T":"135 K","pol":"a"},{"x":383,"r":0.838,"T":"135 K","pol":"a"},{"x":392,"r":0.846,"T":"135 K","pol":"a"},{"x":398,"r":0.817,"T":"135 K","pol":"a"},{"x":406,"r":0.824,"T":"135 K","pol":"a"},{"x":414,"r":0.853,"T":"135 K","pol":"a"},{"x":421,"r":0.838,"T":"135 K","pol":"a"},{"x":427,"r":0.781,"T":"135 K","pol":"a"},{"x":435,"r":0.846,"T":"135 K","pol":"a"},{"x":441,"r":0.867,"T":"135 K","pol":"a"},{"x":447,"r":0.810,"T":"135 K","pol":"a"},{"x":456,"r":0.860,"T":"135 K","pol":"a"},{"x":464,"r":0.810,"T":"135 K","pol":"a"},{"x":472,"r":0.846,"T":"135 K","pol":"a"},{"x":480,"r":0.774,"T":"135 K","pol":"a"},{"x":489,"r":0.781,"T":"135 K","pol":"a"},{"x":495,"r":0.846,"T":"135 K","pol":"a"},{"x":500,"r":0.853,"T":"135 K","pol":"a"},
  {"x":150,"r":1.038,"T":"135 K","pol":"b"},{"x":156,"r":1.010,"T":"135 K","pol":"b"},{"x":162,"r":1.003,"T":"135 K","pol":"b"},{"x":169,"r":0.981,"T":"135 K","pol":"b"},{"x":175,"r":0.964,"T":"135 K","pol":"b"},{"x":180,"r":0.988,"T":"135 K","pol":"b"},{"x":187,"r":0.970,"T":"135 K","pol":"b"},{"x":194,"r":0.978,"T":"135 K","pol":"b"},{"x":201,"r":0.970,"T":"135 K","pol":"b"},{"x":207,"r":0.981,"T":"135 K","pol":"b"},{"x":214,"r":0.998,"T":"135 K","pol":"b"},{"x":220,"r":0.967,"T":"135 K","pol":"b"},{"x":226,"r":0.988,"T":"135 K","pol":"b"},{"x":232,"r":0.996,"T":"135 K","pol":"b"},{"x":239,"r":0.978,"T":"135 K","pol":"b"},{"x":245,"r":0.981,"T":"135 K","pol":"b"},{"x":251,"r":0.988,"T":"135 K","pol":"b"},{"x":257,"r":0.960,"T":"135 K","pol":"b"},{"x":264,"r":0.970,"T":"135 K","pol":"b"},{"x":270,"r":0.960,"T":"135 K","pol":"b"},{"x":278,"r":0.967,"T":"135 K","pol":"b"},{"x":287,"r":0.956,"T":"135 K","pol":"b"},{"x":295,"r":0.950,"T":"135 K","pol":"b"},{"x":303,"r":0.950,"T":"135 K","pol":"b"},{"x":311,"r":0.964,"T":"135 K","pol":"b"},{"x":319,"r":0.960,"T":"135 K","pol":"b"},{"x":328,"r":0.938,"T":"135 K","pol":"b"},{"x":336,"r":0.927,"T":"135 K","pol":"b"},{"x":344,"r":0.913,"T":"135 K","pol":"b"},{"x":352,"r":0.924,"T":"135 K","pol":"b"},{"x":361,"r":0.913,"T":"135 K","pol":"b"},{"x":369,"r":0.907,"T":"135 K","pol":"b"},{"x":377,"r":0.898,"T":"135 K","pol":"b"},{"x":385,"r":0.903,"T":"135 K","pol":"b"},{"x":394,"r":0.907,"T":"135 K","pol":"b"},{"x":402,"r":0.898,"T":"135 K","pol":"b"},{"x":410,"r":0.896,"T":"135 K","pol":"b"},{"x":418,"r":0.884,"T":"135 K","pol":"b"},{"x":424,"r":0.867,"T":"135 K","pol":"b"},{"x":432,"r":0.881,"T":"135 K","pol":"b"},{"x":439,"r":0.896,"T":"135 K","pol":"b"},{"x":445,"r":0.878,"T":"135 K","pol":"b"},{"x":451,"r":0.896,"T":"135 K","pol":"b"},{"x":457,"r":0.881,"T":"135 K","pol":"b"},{"x":464,"r":0.874,"T":"135 K","pol":"b"},{"x":470,"r":0.896,"T":"135 K","pol":"b"},{"x":476,"r":0.874,"T":"135 K","pol":"b"},{"x":485,"r":0.881,"T":"135 K","pol":"b"},{"x":493,"r":0.888,"T":"135 K","pol":"b"},{"x":500,"r":0.896,"T":"135 K","pol":"b"}
 ],
 "refline": [{"x":150,"x2":500,"r":1.0}],
 "pointers": [
  {"x":234.7,"r":1.16,"x2":223.5,"r2":0.698,"T":"10 K"},{"x":234.7,"r":1.16,"x2":257.4,"r2":1.07,"T":"10 K"},
  {"x":373,"r":1.024,"x2":329.7,"r2":0.967,"T":"126 K"},{"x":373,"r":1.024,"x2":349.1,"r2":0.778,"T":"126 K"},
  {"x":428.8,"r":0.638,"x2":385.4,"r2":0.870,"T":"135 K"},{"x":428.8,"r":0.638,"x2":441.2,"r2":0.896,"T":"135 K"}
 ],
 "insetlabels": [{"x":234.7,"r":1.189,"label":"10 K","T":"10 K"},{"x":388.7,"r":1.06,"label":"126 K","T":"126 K"},{"x":437.9,"r":0.574,"label":"135 K","T":"135 K"}],
 "insetkey": [{"x":171,"x2":237,"r":0.495,"pol":"a","label":"E||a"},{"x":171,"x2":237,"r":0.353,"pol":"b","label":"E||b"}]
},
"layer": [
 {
  "layer": [
   {
    "data": {"name": "main"},
    "mark": {"type": "line", "strokeWidth": 3, "interpolate": "monotone", "clip": true},
    "encoding": {
     "x": {"field": "f", "type": "quantitative", "scale": {"domain": [0, 7500], "nice": false, "zero": false}, "axis": null},
     "y": {"field": "s", "type": "quantitative", "scale": {"domain": [0, 3000], "nice": false, "zero": false}, "axis": null},
     "color": {"field": "series", "type": "nominal",
      "scale": {"domain": ["10 K (E||b)","150 K (E||b)","10 K (E||a)","150 K (E||a)"], "range": ["#0000ff","#ff0000","#0000ff","#ff0000"]},
      "legend": {"orient": "none", "legendX": 40, "legendY": 15, "title": null, "symbolType": "stroke", "symbolSize": 1600, "symbolStrokeWidth": 3.5,
       "labelFont": "Liberation Serif", "labelFontSize": 27, "labelColor": "#000", "rowPadding": -13, "labelOffset": 15, "padding": 0}},
     "strokeDash": {"field": "series", "type": "nominal",
      "scale": {"domain": ["10 K (E||b)","150 K (E||b)","10 K (E||a)","150 K (E||a)"], "range": [[15,7],[15,7],[1,0],[1,0]]},
      "legend": {"orient": "none", "legendX": 40, "legendY": 15, "title": null, "symbolType": "stroke", "symbolSize": 1600, "symbolStrokeWidth": 3.5,
       "labelFont": "Liberation Serif", "labelFontSize": 27, "labelColor": "#000", "rowPadding": -13, "labelOffset": 15, "padding": 0}}
    }
   },
   {
    "data": {"name": "markers"},
    "mark": {"type": "rule", "color": "#66cc00", "strokeWidth": 5, "strokeDash": [8, 4]},
    "encoding": {
     "x": {"field": "f", "type": "quantitative", "axis": null},
     "y": {"field": "s", "type": "quantitative", "axis": null},
     "y2": {"field": "s2"}
    }
   },
   {
    "data": {"name": "mainlabels"},
    "mark": {"type": "text", "font": "Liberation Serif", "fontSize": 26, "color": "#000", "align": "center", "baseline": "middle"},
    "encoding": {
     "x": {"field": "f", "type": "quantitative", "axis": null},
     "y": {"field": "s", "type": "quantitative", "axis": null},
     "text": {"field": "label"}
    }
   }
  ]
 },
 {
  "data": {"values": [{"f": 0, "s": 0}]},
  "mark": {"type": "point", "opacity": 0},
  "encoding": {
   "x": {"field": "f", "type": "quantitative", "scale": {"domain": [0, 7500], "nice": false, "zero": false},
    "axis": {"orient": "bottom", "title": "Frequency (cm⁻¹)", "values": [0,500,1000,1500,2000,2500,3000,3500,4000,4500,5000,5500,6000,6500,7000],
     "labelExpr": "datum.value % 1000 === 0 ? format(datum.value, 'd') : ''", "labelPadding": 16, "titleY": 50, "titleBaseline": "middle"}},
   "y": {"field": "s", "type": "quantitative", "scale": {"domain": [0, 3000], "nice": false, "zero": false},
    "axis": {"orient": "left", "title": "σ₁(ω) (Ωcm)⁻¹", "values": [0,500,1000,1500,2000,2500,3000],
     "labelExpr": "datum.value % 1000 === 0 ? format(datum.value, 'd') : ''", "labelPadding": 15, "titleX": -75, "titleY": 274, "titleBaseline": "middle"}}
  }
 },
 {
  "data": {"values": [{"s": 0}]},
  "mark": {"type": "point", "opacity": 0},
  "encoding": {
   "y": {"field": "s", "type": "quantitative", "scale": {"domain": [0, 3000], "nice": false, "zero": false},
    "axis": {"orient": "right", "title": null, "labels": false, "values": [0,500,1000,1500,2000,2500,3000]}}
  }
 },
 {
  "data": {"values": [{"E": 0}]},
  "mark": {"type": "point", "opacity": 0},
  "encoding": {
   "x": {"field": "E", "type": "quantitative", "scale": {"domain": [0, 0.929865], "nice": false, "zero": false},
    "axis": {"orient": "top", "title": "Energy (eV)", "values": [0,0.05,0.1,0.15,0.2,0.25,0.3,0.35,0.4,0.45,0.5,0.55,0.6,0.65,0.7,0.75,0.8,0.85,0.9],
     "labelExpr": "round(datum.value*100) % 10 === 0 ? format(datum.value, '.1f') : ''", "labelPadding": 22, "titleY": -56, "titleBaseline": "middle"}}
  }
 },
 {
  "layer": [
   {
    "data": {"name": "inset"},
    "transform": [{"filter": "datum.pol === 'a'"}],
    "mark": {"type": "line", "strokeWidth": 1.3},
    "encoding": {
     "x": {"field": "x", "type": "quantitative", "scale": {"domain": [150, 500], "range": [333, 615], "nice": false, "zero": false}, "axis": null},
     "y": {"field": "r", "type": "quantitative", "scale": {"domain": [0.2, 1.4], "range": [598, 318], "nice": false, "zero": false}, "axis": null},
     "color": {"field": "T", "type": "nominal", "scale": {"domain": ["10 K","126 K","135 K"], "range": ["#0000ff","#66cc22","#ff0000"]}, "legend": null}
    }
   },
   {
    "data": {"name": "inset"},
    "transform": [{"filter": "datum.pol === 'b'"}],
    "mark": {"type": "line", "strokeWidth": 4.5, "strokeDash": [11, 6]},
    "encoding": {
     "x": {"field": "x", "type": "quantitative", "axis": null},
     "y": {"field": "r", "type": "quantitative", "axis": null},
     "color": {"field": "T", "type": "nominal", "legend": null}
    }
   },
   {
    "data": {"name": "refline"},
    "mark": {"type": "rule", "color": "#000", "strokeWidth": 1.5, "strokeDash": [6, 4]},
    "encoding": {
     "x": {"field": "x", "type": "quantitative", "axis": null},
     "x2": {"field": "x2"},
     "y": {"field": "r", "type": "quantitative", "axis": null}
    }
   },
   {
    "data": {"name": "pointers"},
    "mark": {"type": "rule", "strokeWidth": 1.3},
    "encoding": {
     "x": {"field": "x", "type": "quantitative", "axis": null},
     "x2": {"field": "x2"},
     "y": {"field": "r", "type": "quantitative", "axis": null},
     "y2": {"field": "r2"},
     "stroke": {"field": "T", "type": "nominal", "scale": {"domain": ["10 K","126 K","135 K"], "range": ["#0000ff","#8c9d2c","#ff0000"]}, "legend": null}
    }
   },
   {
    "data": {"name": "insetlabels"},
    "mark": {"type": "text", "font": "Liberation Serif", "fontSize": 25, "align": "center", "baseline": "middle"},
    "encoding": {
     "x": {"field": "x", "type": "quantitative", "axis": null},
     "y": {"field": "r", "type": "quantitative", "axis": null},
     "text": {"field": "label"},
     "fill": {"field": "T", "type": "nominal", "scale": {"domain": ["10 K","126 K","135 K"], "range": ["#0000ff","#8c9d2c","#ff0000"]}, "legend": null}
    }
   },
   {
    "data": {"name": "insetkey"},
    "transform": [{"filter": "datum.pol === 'a'"}],
    "mark": {"type": "rule", "color": "#000", "strokeWidth": 1.5},
    "encoding": {
     "x": {"field": "x", "type": "quantitative", "axis": null},
     "x2": {"field": "x2"},
     "y": {"field": "r", "type": "quantitative", "axis": null}
    }
   },
   {
    "data": {"name": "insetkey"},
    "transform": [{"filter": "datum.pol === 'b'"}],
    "mark": {"type": "rule", "color": "#000", "strokeWidth": 5, "strokeDash": [23, 7]},
    "encoding": {
     "x": {"field": "x", "type": "quantitative", "axis": null},
     "x2": {"field": "x2"},
     "y": {"field": "r", "type": "quantitative", "axis": null}
    }
   },
   {
    "data": {"name": "insetkey"},
    "mark": {"type": "text", "font": "Liberation Serif", "fontSize": 25, "align": "left", "baseline": "middle", "color": "#000", "dx": 2},
    "encoding": {
     "x": {"field": "x2", "type": "quantitative", "axis": null},
     "y": {"field": "r", "type": "quantitative", "axis": null},
     "text": {"field": "label"}
    }
   }
  ]
 },
 {
  "data": {"values": [{"x": 150, "r": 0.2}]},
  "mark": {"type": "point", "opacity": 0},
  "encoding": {
   "x": {"field": "x", "type": "quantitative", "scale": {"domain": [150, 500], "range": [333, 615], "nice": false, "zero": false},
    "axis": {"orient": "bottom", "offset": -53, "title": null, "values": [200,250,300,350,400,450,500],
     "labelExpr": "datum.value % 100 === 0 ? format(datum.value, 'd') : ''", "labelPadding": 16}},
   "y": {"field": "r", "type": "quantitative", "scale": {"domain": [0.2, 1.4], "range": [598, 318], "nice": false, "zero": false},
    "axis": {"orient": "left", "offset": -333, "title": "σ₁(ω,T)/σ₁(ω,150 K)", "values": [0.2,0.4,0.6,0.8,1.0,1.2,1.4],
     "labelExpr": "round(datum.value*10) % 4 === 2 ? format(datum.value, '.1f') : ''", "labelPadding": 13, "titleX": -85, "titleBaseline": "middle", "titleFontSize": 25}}
  }
 },
 {
  "data": {"values": [{"r": 0.2}]},
  "mark": {"type": "point", "opacity": 0},
  "encoding": {
   "y": {"field": "r", "type": "quantitative", "scale": {"domain": [0.2, 1.4], "range": [598, 318], "nice": false, "zero": false},
    "axis": {"orient": "right", "offset": -38, "title": null, "labels": false, "values": [0.2,0.4,0.6,0.8,1.0,1.2,1.4]}}
  }
 },
 {
  "data": {"values": [{"e": 0.02}]},
  "mark": {"type": "point", "opacity": 0},
  "encoding": {
   "x": {"field": "e", "type": "quantitative", "scale": {"domain": [0.018598, 0.061993], "range": [333, 615], "nice": false, "zero": false},
    "axis": {"orient": "top", "offset": -318, "title": null, "values": [0.02,0.03,0.04,0.05,0.06],
     "labelExpr": "round(datum.value*100) % 2 === 0 ? format(datum.value, '.2f') : ''", "labelPadding": 21}}
  }
 }
],
"resolve": {"scale": {"x": "independent", "y": "independent", "color": "independent", "strokeDash": "independent"}, "axis": {"x": "independent", "y": "independent"}}
}
